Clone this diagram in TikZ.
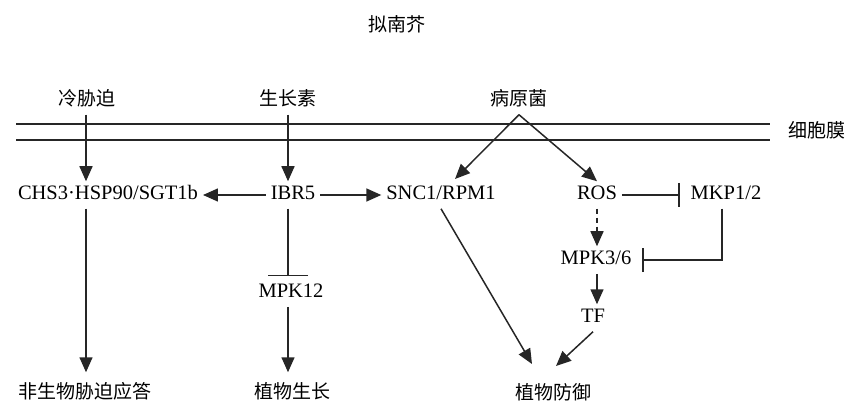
\documentclass[tikz,border=0pt]{standalone}
\usepackage{fontspec}
\setmainfont{Liberation Serif}
\newfontfamily\cjk{Noto Sans CJK SC}
\usetikzlibrary{arrows.meta,calc}
\begin{document}
\begin{tikzpicture}[x=1pt,y=-1pt,
  lbl/.style={font=\fontsize{20.5}{24}\selectfont, inner sep=0pt, outer sep=5pt, text height=13.5pt, text depth=4pt},
  cn/.style={lbl, font=\fontsize{19}{22}\selectfont\cjk},
  conn/.style={line width=1.5pt, color=black!85},
  arr/.style={conn, -{Triangle[length=15pt,width=13pt]}},
  inh/.style={conn, -{Bar[width=24pt,line width=1.5pt]}},
  memb/.style={line width=1.4pt, color=black!85}
]
\useasboundingbox (0,0) rectangle (848,403);
% title and inputs
\node[cn] (title) at (397,27) {拟南芥};
\node[cn] (cold) at (87,101) {冷胁迫};
\node[cn] (auxin) at (288,101) {生长素};
\node[cn] (path) at (519,101) {病原菌};
% membrane
\draw[memb] (16,124) -- (770,124);
\draw[memb] (16,140) -- (770,140);
\node[cn] (mem) at (817,133) {细胞膜};
% row 1
\node[lbl] (chs) at (108,195) {CHS3·HSP90/SGT1b};
\node[lbl] (ibr) at (293,195) {IBR5};
\node[lbl] (snc) at (441,195) {SNC1/RPM1};
\node[lbl] (ros) at (597,195) {ROS};
\node[lbl] (mkp) at (726,195) {MKP1/2};
% middle
\node[lbl] (mpk12) at (291,293) {MPK12};
\node[lbl] (mpk36) at (596,260) {MPK3/6};
\node[lbl] (tf) at (593,318) {TF};
% outputs
\node[cn] (abiotic) at (85,394) {非生物胁迫应答};
\node[cn] (growth) at (292,394) {植物生长};
\node[cn] (defense) at (553,395) {植物防御};
% helper coordinates
\coordinate (cx) at (86,0);
\coordinate (ax) at (288,0);
\coordinate (sncin) at (455,179);
\coordinate (d1) at (532,364);
\coordinate (d2) at (556,366);
% connectors
\draw[arr] (cx |- cold.south) -- (cx |- chs.north);
\draw[arr] (ax |- auxin.south) -- (ax |- ibr.north);
\draw[arr] (path.south) -- (sncin);
\draw[arr] (path.south) -- (ros.north);
\draw[arr] (ibr.west) -- (chs.east);
\draw[arr] (ibr.east) -- (snc.west);
\draw[inh, shorten >=6pt] (ros.east) -- (mkp.west);
\draw[conn, -{Bar[width=40pt,line width=1.5pt]}, shorten >=3pt] (ax |- ibr.south) -- (ax |- mpk12.north);
\draw[arr] (ax |- mpk12.south) -- ($(ax |- growth.north)+(0,-8)$);
\draw[arr] (cx |- chs.south) -- ($(cx |- abiotic.north)+(0,-8)$);
\draw[arr, dash pattern=on 5pt off 4pt] (ros.south) -- (ros.south |- mpk36.north);
\draw[inh, shorten >=6pt] (mkp.south -| 722,0) -- (722,0 |- mpk36.east) -- (mpk36.east);
\draw[arr] (mpk36.south -| ros.south) -- (ros.south |- tf.north);
\draw[arr] (snc.south) -- (d1);
\draw[arr] (tf.south) -- (d2);
\end{tikzpicture}
\end{document}
